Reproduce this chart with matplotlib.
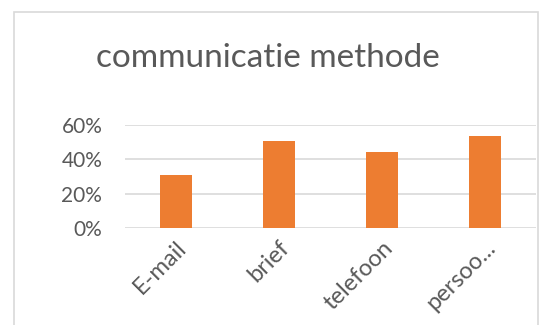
import matplotlib
matplotlib.use("Agg")
import matplotlib.pyplot as plt
from matplotlib.patches import Rectangle
from matplotlib.ticker import PercentFormatter

categories = ["E-mail", "brief", "telefoon", "persoo..."]
values = [0.31, 0.505, 0.445, 0.535]

W, H = 541, 325
fig = plt.figure(figsize=(W / 100, H / 100), dpi=100)
plt.rcParams['font.family'] = ['Lato', 'DejaVu Sans']

# chart area border
fig.patches.append(Rectangle((14 / W, -0.1), (538 - 14) / W, 1.1 - 12 / H,
                             transform=fig.transFigure, fill=False,
                             edgecolor='#d9d9d9', linewidth=1.2))

ax = fig.add_axes([124.5 / W, 1 - 228 / H, (536 - 124.5) / W, (228 - 125) / H])
ax.bar(range(len(categories)), values, width=0.31, color='#ed7d31', zorder=3)

ax.set_ylim(0, 0.6)
ax.set_xlim(-0.5, len(categories) - 0.5)
ax.set_yticks([0, 0.2, 0.4, 0.6])
ax.yaxis.set_major_formatter(PercentFormatter(1.0, decimals=0))
ax.grid(axis='y', color='#d9d9d9', linewidth=1.2, zorder=0)
for s in ax.spines.values():
    s.set_visible(False)
ax.tick_params(axis='both', length=0, colors='#595959')
ax.tick_params(axis='y', pad=16, labelsize=15)
ax.set_xticks(range(len(categories)))
ax.set_xticklabels(categories, rotation=45, ha='right', va='top',
                   rotation_mode='anchor')
ax.tick_params(axis='x', pad=6.5, labelsize=17)

fig.text(268 / W, 1 - 58 / H, "communicatie methode", ha='center', va='center',
         fontsize=24, color='#595959')

fig.savefig("out.png", dpi=100)
